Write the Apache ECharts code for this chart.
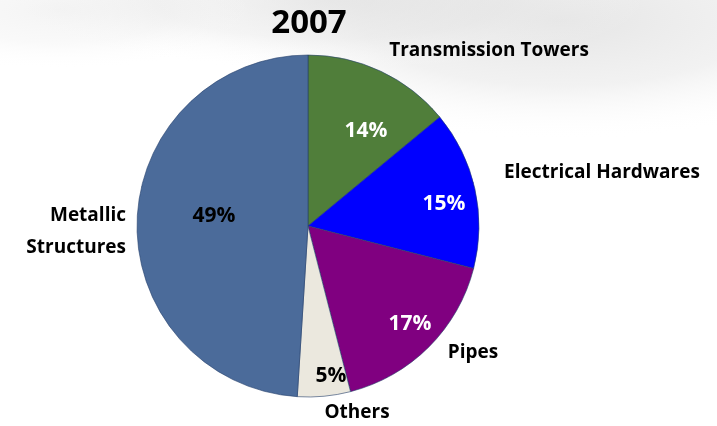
<!DOCTYPE html>
<html>
<head>
<meta charset="utf-8">
<script src="https://cdn.jsdelivr.net/npm/echarts@6/dist/echarts.min.js"></script>
<style>
  html, body { margin: 0; padding: 0; background: #fff; }
  #pie2007 { width: 717px; height: 426px; }
</style>
</head>
<body>
<div id="pie2007"></div>
<script>
var categories = ['Transmission Towers', 'Electrical Hardwares', 'Pipes', 'Others', 'Metallic Structures'];
var shares = [14, 15, 17, 5, 49];
var sliceColors = ['#507e3a', '#0000ff', '#800080', '#ebe8de', '#4b6b9a'];
var pctColors = ['#fff', '#fff', '#fff', '#000', '#000'];
var outsideNames = ['Transmission Towers', 'Electrical Hardwares', 'Pipes', 'Others', 'Metallic\nStructures'];

gerarGrafico2007()
function gerarGrafico2007(){
    var dom = document.getElementById('pie2007');
    var myChart = echarts.init(dom, null, { renderer: 'canvas' });

    var font = '"Open Sans", sans-serif';
    // where the labels sit in the picture
    var pctPos = [[366, 131], [444, 204], [410, 324], [331, 376], [214, 216]];
    var namePos = [[489, 51], [602, 173], [473, 353], [357, 413], [126, 232]];

    var pieData = categories.map(function (c, i) {
      return {
        name: c,
        value: shares[i],
        itemStyle: { color: sliceColors[i] },
        label: { color: pctColors[i] }
      };
    });
    var nameData = categories.map(function (c, i) {
      return { name: outsideNames[i], value: shares[i] };
    });

    // soft grey swoosh behind the top of the chart (a circle stretched sideways)
    function haze(cx, cy, rx, ry, alpha) {
      return {
        type: 'circle',
        silent: true,
        z: -10,
        x: cx,
        y: cy,
        scaleX: rx / ry,
        shape: { cx: 0, cy: 0, r: ry },
        style: {
          fill: new echarts.graphic.RadialGradient(0.5, 0.5, 0.5, [
            { offset: 0, color: 'rgba(218,218,218,' + alpha + ')' },
            { offset: 0.55, color: 'rgba(228,228,228,' + alpha * 0.7 + ')' },
            { offset: 1, color: 'rgba(255,255,255,0)' }
          ])
        }
      };
    }

    var option = {
      backgroundColor: '#fff',
      graphic: [
        haze(560, 20, 360, 120, 0.7),
        haze(330, 0, 320, 70, 0.55),
        haze(60, 10, 200, 60, 0.3)
      ],
      title: {
        text: '2007',
        left: 304,
        top: 2,
        textAlign: 'center',
        textStyle: { fontFamily: font, fontWeight: 'bold', fontSize: 33, color: '#000' }
      },
      series: [
        {
          type: 'pie',
          center: [308, 226],
          radius: 171,
          startAngle: 90,
          clockwise: true,
          silent: true,
          itemStyle: { borderColor: '#25406b', borderWidth: 0.6 },
          label: {
            position: 'inside',
            formatter: '{c}%',
            fontFamily: font,
            fontWeight: 'bold',
            fontSize: 21
          },
          labelLayout: function (p) {
            return { x: pctPos[p.dataIndex][0], y: pctPos[p.dataIndex][1], align: 'center', verticalAlign: 'middle' };
          },
          data: pieData
        },
        {
          type: 'pie',
          center: [308, 226],
          radius: 171,
          startAngle: 90,
          silent: true,
          itemStyle: { color: 'rgba(0,0,0,0)' },
          label: {
            position: 'outside',
            formatter: '{b}',
            color: '#000',
            fontFamily: font,
            fontWeight: 'bold',
            fontSize: 19,
            lineHeight: 32,
            overflow: 'none'
          },
          labelLine: { show: false },
          labelLayout: function (p) {
            var i = p.dataIndex;
            return {
              x: namePos[i][0],
              y: namePos[i][1],
              align: i === 4 ? 'right' : 'center',
              verticalAlign: 'middle'
            };
          },
          data: nameData
        }
      ]
    };

    myChart.setOption(option);
    window.addEventListener('resize', myChart.resize);
}
</script>
</body>
</html>
